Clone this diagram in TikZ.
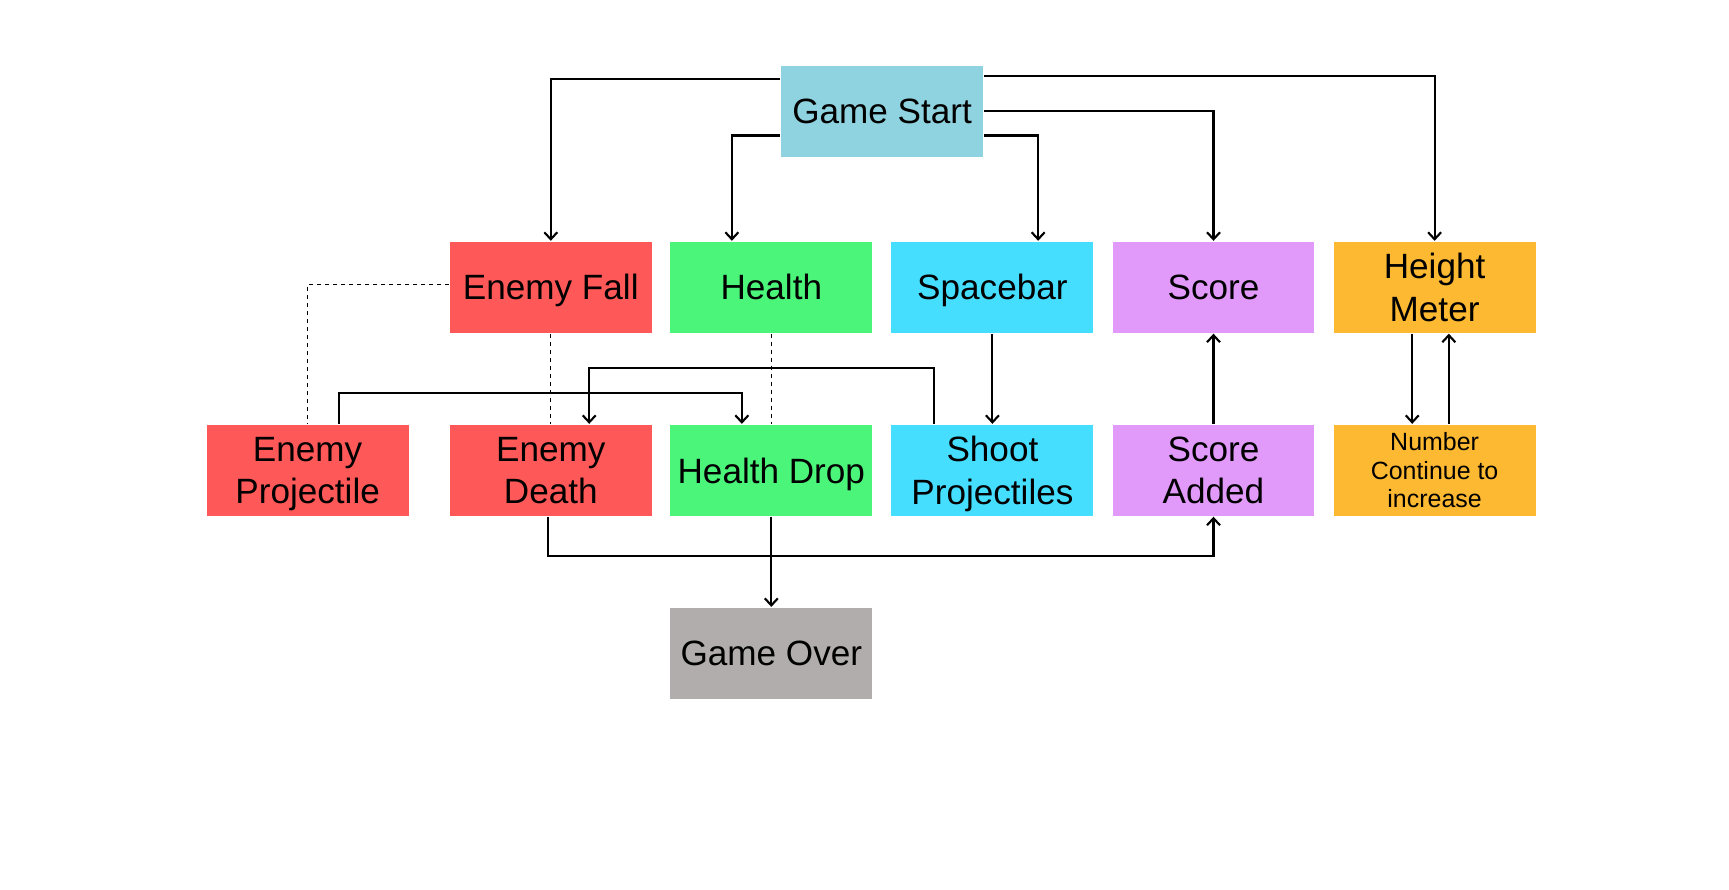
\documentclass[tikz,border=0pt]{standalone}
\usepackage{fontspec}
\setmainfont{Liberation Sans}
\usetikzlibrary{arrows.meta,calc}
\definecolor{startblue}{RGB}{143,211,224}
\definecolor{enemyred}{RGB}{255,88,88}
\definecolor{healthgreen}{RGB}{74,245,122}
\definecolor{shootcyan}{RGB}{69,222,255}
\definecolor{scorepurple}{RGB}{225,153,250}
\definecolor{meterorange}{RGB}{253,185,49}
\definecolor{overgray}{RGB}{176,173,172}
\tikzset{
  caja/.style={rectangle, minimum width=2.02cm, minimum height=0.915cm, inner sep=1pt,
    align=center, font=\fontsize{10}{12.1}\selectfont, text depth=0pt},
  flecha/.style={line width=0.6pt, -{Straight Barb[length=0.7mm,width=1.3mm]}},
  punteada/.style={line width=0.35pt, dash pattern=on 0.45mm off 0.35mm},
}
\begin{document}
\begin{tikzpicture}[x=0.011027cm, y=-0.011027cm]
  \useasboundingbox (0,0) rectangle (1568,807);
  % Cajas
  \node[caja, fill=startblue] (inicio) at (800,101) {Game Start};
  \foreach \n/\x/\col/\txt in {ef/499.5/enemyred/Enemy Fall, hl/699.5/healthgreen/Health,
      sb/900/shootcyan/Spacebar, sc/1100.5/scorepurple/Score, hm/1301/meterorange/{Height\\Meter}} {
    \node[caja, fill=\col] (\n) at (\x,260.5) {\txt};
  }
  \foreach \n/\x/\col/\txt in {ep/279/enemyred/{Enemy\\Projectile}, ed/499.5/enemyred/{Enemy\\Death},
      hd/699.5/healthgreen/Health Drop, sp/900/shootcyan/{Shoot\\Projectiles}, sa/1100.5/scorepurple/{Score\\Added}} {
    \node[caja, fill=\col] (\n) at (\x,426.5) {\txt};
  }
  \node[caja, fill=meterorange, font=\fontsize{7.1}{8.1}\selectfont] (nc) at (1301,426.5) {Number\\Continue to\\increase};
  \node[caja, fill=overgray] (go) at (699.5,592.5) {Game Over};
  % Conexiones desde el inicio
  \draw[flecha] ($(inicio.north west)!.15!(inicio.south west)$) -| (ef.north);
  \draw[flecha] ($(inicio.north west)!.76!(inicio.south west)$) -| ($(hl.north west)!.306!(hl.north east)$);
  \draw[flecha] ($(inicio.north east)!.76!(inicio.south east)$) -| ($(sb.north west)!.725!(sb.north east)$);
  \draw[flecha] (inicio.east) -| (sc.north);
  \draw[flecha] ($(inicio.north east)!.12!(inicio.south east)$) -| (hm.north);
  % Relaciones punteadas
  \draw[punteada] ($(ef.north west)!.47!(ef.south west)$) -| (ep.north);
  \draw[punteada] (ef.south) -- (ed.north);
  \draw[punteada] (hl.south) -- (hd.north);
  % Segunda fila
  \draw[flecha] (sb.south) -- (sp.north);
  \draw[flecha] ($(ep.north west)!.654!(ep.north east)$) -- ++(0,-28) -| ($(hd.north west)!.355!(hd.north east)$);
  \draw[flecha] ($(sp.north west)!.214!(sp.north east)$) -- ++(0,-51) -| ($(ed.north west)!.689!(ed.north east)$);
  \draw[flecha] ($(ed.south west)!.486!(ed.south east)$) -- ++(0,36) -| (sa.south);
  \draw[flecha] (hd.south) -- (go.north);
  \draw[flecha] (sa.north) -- (sc.south);
  \draw[flecha] ($(hm.south west)!.39!(hm.south east)$) -- ($(nc.north west)!.39!(nc.north east)$);
  \draw[flecha] ($(nc.north west)!.57!(nc.north east)$) -- ($(hm.south west)!.57!(hm.south east)$);
\end{tikzpicture}
\end{document}
